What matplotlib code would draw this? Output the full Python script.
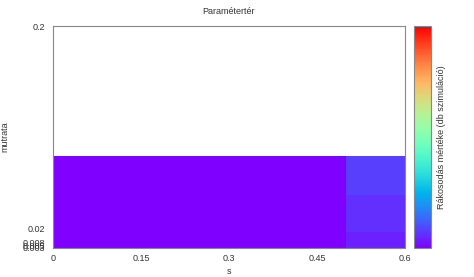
import matplotlib
matplotlib.use("Agg")
import matplotlib.pyplot as plt
import numpy as np

plt.rcParams['font.family'] = ['Liberation Sans', 'DejaVu Sans']

# parameter grid (cell edges) and simulation counts
s_edges = [0.0, 0.5, 0.6]
mutrata_edges = [0.003, 0.017, 0.05, 0.085]
counts = [[0, 2],
          [0, 3],
          [0, 4]]
x_ticks = [0, 0.15, 0.3, 0.45, 0.6]
x_labels = ['0', '0.15', '0.3', '0.45', '0.6']
y_ticks = [0.003, 0.005, 0.008, 0.02, 0.2]
y_labels = ['0.003', '0.005', '0.008', '0.02', '0.2']
vmax = 50


def main():
    fig = plt.figure(figsize=(4.74, 2.77), dpi=100)
    ax = fig.add_axes([0.1118, 0.1047, 0.7426, 0.8014])
    cax = fig.add_axes([0.8734, 0.1047, 0.0359, 0.8014])

    mesh = ax.pcolormesh(s_edges, mutrata_edges, np.array(counts),
                         cmap='rainbow', vmin=0, vmax=vmax)
    ax.set_xlim(0, 0.6)
    ax.set_ylim(0.003, 0.2)
    ax.set_xticks(x_ticks)
    ax.set_xticklabels(x_labels)
    ax.set_yticks(y_ticks)
    ax.set_yticklabels(y_labels)
    ax.tick_params(length=0, labelsize=6.5, colors='#333333')
    ax.tick_params(axis='x', pad=4)
    ax.tick_params(axis='y', pad=6)
    for sp in ax.spines.values():
        sp.set_color('#888888')
        sp.set_linewidth(0.8)
    ax.set_title('Paramétertér', fontsize=6.5, color='#333333', pad=9)
    ax.set_xlabel('s', fontsize=6.5, color='#333333')
    ax.xaxis.set_label_coords(0.5, -0.085)
    ax.set_ylabel('mutrata', fontsize=6.5, color='#333333')
    ax.yaxis.set_label_coords(-0.125, 0.5)

    cb = fig.colorbar(mesh, cax=cax)
    cb.set_ticks([])
    cb.outline.set_edgecolor('#888888')
    cb.outline.set_linewidth(0.8)
    cb.set_label('Rákosodás mértéke (db szimuláció)', fontsize=6.5,
                 color='#333333', labelpad=4)

    fig.savefig('out.png', dpi=100)


if __name__ == '__main__':
    main()
